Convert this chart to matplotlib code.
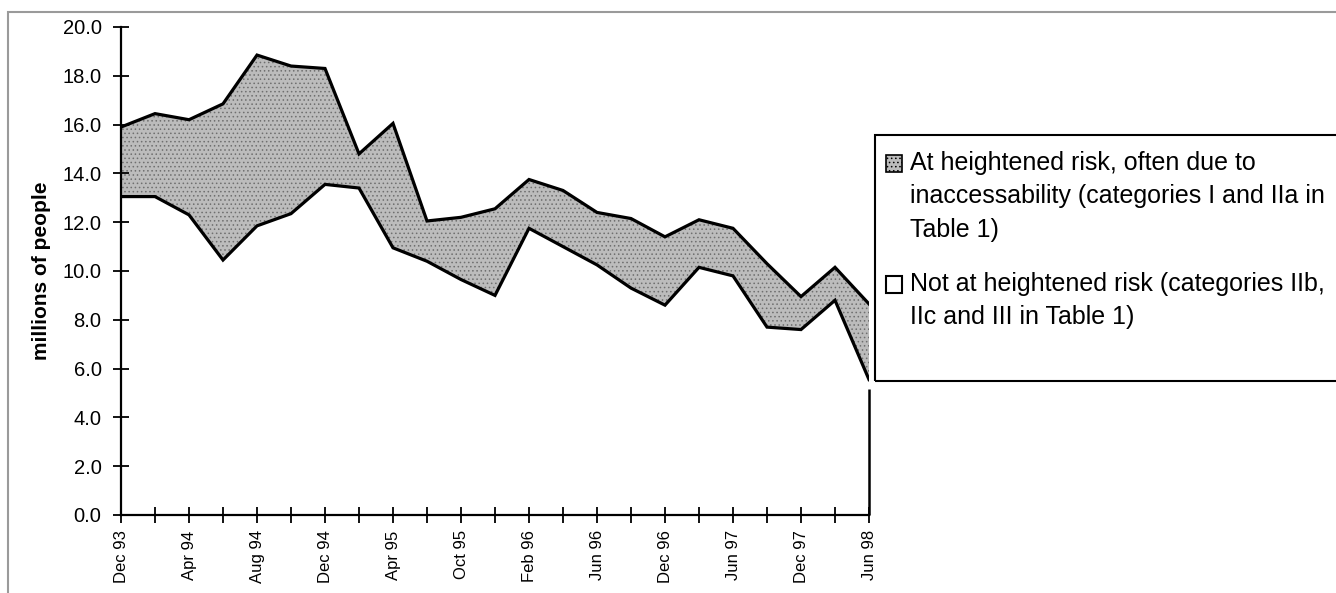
"""
Emergency caseload chart: people at heightened risk vs not, Dec 93 - Jun 98.
"""

import matplotlib
matplotlib.use("Agg")
import matplotlib.pyplot as plt
from matplotlib.legend_handler import HandlerPatch
from matplotlib.patches import Patch, Rectangle
import numpy as np


# survey dates (only every other one is labelled on the axis)
tick_labels = ["Dec 93", "", "Apr 94", "", "Aug 94", "", "Dec 94", "", "Apr 95", "",
               "Oct 95", "", "Feb 96", "", "Jun 96", "", "Dec 96", "", "Jun 97", "",
               "Dec 97", "", "Jun 98"]

# millions of people
not_at_risk = [13.05, 13.05, 12.3, 10.45, 11.85, 12.35, 13.55, 13.4, 10.95, 10.4,
               9.65, 9.0, 11.75, 11.0, 10.25, 9.3, 8.6, 10.15, 9.8, 7.7,
               7.6, 8.8, 5.55]
at_risk = [2.85, 3.4, 3.9, 6.4, 7.0, 6.05, 4.75, 1.4, 5.1, 1.65,
           2.55, 3.55, 2.0, 2.3, 2.15, 2.85, 2.8, 1.95, 1.95, 2.6,
           1.35, 1.35, 3.1]

label_risk = "At heightened risk, often due to\ninaccessability (categories I and IIa in\nTable 1)"
label_safe = "Not at heightened risk (categories IIb,\nIIc and III in Table 1)"


class TopPatch(HandlerPatch):
    """legend square next to the first line of a multi-line label"""

    def __init__(self, lift, **kw):
        super().__init__(**kw)
        self.lift = lift

    def create_artists(self, legend, orig_handle, xdescent, ydescent,
                       width, height, fontsize, trans):
        p = Rectangle((-xdescent, -ydescent + self.lift * fontsize), width, height)
        self.update_prop(p, orig_handle, legend)
        p.set_transform(trans)
        return [p]


plt.rcParams["font.family"] = ["Liberation Sans", "DejaVu Sans"]
plt.rcParams["hatch.linewidth"] = 0.6

W, H = 1336, 593
fig = plt.figure(figsize=(W / 100, H / 100), dpi=100)
ax = fig.add_axes([121 / W, 1 - 515 / H, 748 / W, 488 / H])

x = np.arange(len(tick_labels))
bottom = np.array(not_at_risk)
total = bottom + np.array(at_risk)

stipple = "#bcbcbc"
ax.fill_between(x, bottom, total, facecolor=stipple, hatch="....",
                edgecolor="#6f6f6f", linewidth=0, zorder=1)
ax.plot(x, total, color="black", lw=2.3, solid_joinstyle="miter", zorder=3)
ax.plot(x, bottom, color="black", lw=2.3, solid_joinstyle="miter", zorder=3)
ax.vlines(x[-1], 0, bottom[-1] - 0.4, color="black", lw=1.8, zorder=3, clip_on=False)

ax.set_xlim(0, len(x) - 1)
ax.set_ylim(0, 20)
ax.set_yticks(np.arange(0, 21, 2))
ax.set_yticklabels([f"{v:.1f}" for v in np.arange(0, 21, 2)], fontsize=14.5)
ax.set_xticks(x)
ax.set_xticklabels(tick_labels, rotation=90, fontsize=12)

for side in ("top", "right"):
    ax.spines[side].set_visible(False)
for side in ("left", "bottom"):
    ax.spines[side].set_linewidth(1.6)
ax.tick_params(direction="inout", length=12, width=1.3)
ax.tick_params(axis="y", pad=8)
ax.tick_params(axis="x", pad=5)

ax.set_ylabel("millions of people", fontsize=15, fontweight="bold")
ax.yaxis.set_label_coords(-0.094, 0.5)

# legend: frame drawn separately because the original box runs off the page
handles = [Patch(facecolor=stipple, hatch="....", edgecolor="black", lw=1.2, label=label_risk),
           Patch(facecolor="white", edgecolor="black", lw=1.5, label=label_safe)]
leg = fig.legend(handles=handles, loc="upper left", frameon=False,
                 handler_map={handles[0]: TopPatch(1.34), handles[1]: TopPatch(0.67)},
                 bbox_to_anchor=(886 / W, 1 - 151 / H), borderaxespad=0, borderpad=0,
                 fontsize=18, handlelength=0.65, handleheight=0.65, handletextpad=0.3,
                 labelspacing=1.2)
for t in leg.get_texts():
    t.set_linespacing(1.49)

fig.patches.append(Rectangle((875 / W, 1 - 381 / H), 500 / W, 246 / H,
                             transform=fig.transFigure, facecolor="none",
                             edgecolor="black", lw=1.5))
# outer page border (gray)
fig.patches.append(Rectangle((8 / W, -0.1), 1.2, 1.1 - 12 / H,
                             transform=fig.transFigure, facecolor="none",
                             edgecolor="#9a9a9a", lw=1.5))

fig.savefig("out.png", dpi=100)
